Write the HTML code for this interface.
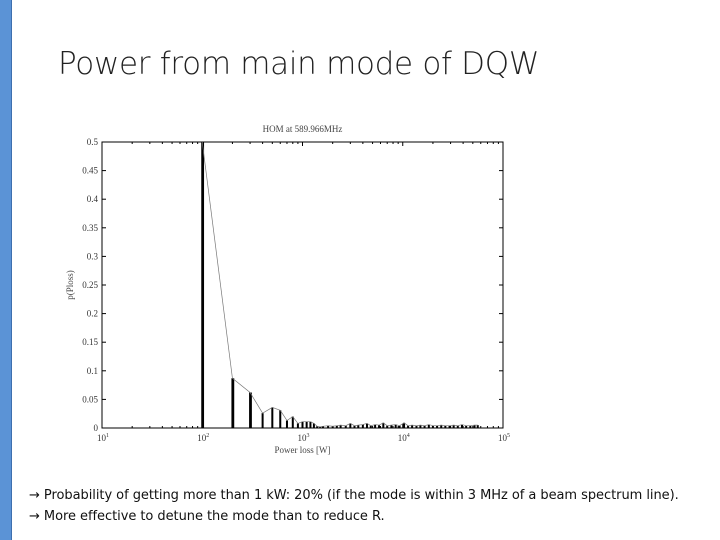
<!DOCTYPE html>
<html><head><meta charset="utf-8"><style>
body{margin:0;width:720px;height:540px;background:#fff;position:relative;overflow:hidden;font-family:"Liberation Sans",sans-serif}
#bar{position:absolute;left:0;top:0;width:11px;height:540px;background:#5b93d6;border-right:1px solid #3d6fae}
#title{position:absolute;left:58px;top:46px;font-size:31px;color:#222;font-family:"DejaVu Sans","Liberation Sans",sans-serif;font-weight:300;letter-spacing:-0.3px}
.txt{position:absolute;left:29px;font-size:13px;color:#111;font-family:"DejaVu Sans","Liberation Sans",sans-serif;letter-spacing:-0.05px}
svg{position:absolute;left:0;top:0}
</style></head><body>
<div id="bar"></div>
<div id="title">Power from main mode of DQW</div>
<div class="txt" style="top:488px">→ Probability of getting more than 1 kW: 20% (if the mode is within 3 MHz of a beam spectrum line).</div>
<div class="txt" style="top:509px">→ More effective to detune the mode than to reduce R.</div>
<svg id="chart" width="720" height="540"></svg>
<script>
const powers=[100,200,300,400,500,600,700,800,900,1000,1100,1200,1300,1400,1500,1600,1800,2000,2200,2400,2700,3000,3300,3600,4000,4400,4800,5300,5800,6400,7000,7700,8500,9300,10300,11300,12400,13700,15000,16500,18200,20000,22000,24200,26600,29300,32200,35400,39000,42900,47200,52000,56000];
const probs=[0.5,0.087,0.062,0.026,0.036,0.031,0.013,0.02,0.008,0.011,0.011,0.011,0.008,0.003,0.002,0.003,0.004,0.003,0.004,0.005,0.004,0.008,0.004,0.005,0.006,0.008,0.004,0.006,0.005,0.009,0.004,0.005,0.006,0.004,0.009,0.004,0.005,0.004,0.005,0.004,0.006,0.004,0.004,0.005,0.004,0.004,0.005,0.004,0.006,0.004,0.004,0.005,0.005];
const yTicks=[0,0.05,0.1,0.15,0.2,0.25,0.3,0.35,0.4,0.45,0.5];
const xDecades=[1,2,3,4,5];
const L=102,R=503,T=142,B=428;
const xs=v=>L+(Math.log10(v)-1)/4*(R-L);
const ys=v=>B-v/0.5*(B-T);
const svg=document.getElementById('chart');const NS='http://www.w3.org/2000/svg';
function mk(t,a,txt){const e=document.createElementNS(NS,t);for(const k in a)e.setAttribute(k,a[k]);if(txt!==undefined)e.textContent=txt;svg.appendChild(e);return e;}
const F='"Liberation Serif",serif';
let e=mk('rect',{x:L,y:T,width:R-L,height:B-T,fill:'none',stroke:'#000','stroke-width':1});

yTicks.forEach(v=>{const y=ys(v);
mk('line',{x1:L,x2:L+4,y1:y,y2:y,stroke:'#000'});mk('line',{x1:R,x2:R-4,y1:y,y2:y,stroke:'#000'});
const t=mk('text',{x:L-4,y:y+3,'text-anchor':'end','font-size':9,'font-family':F,fill:'#333'},String(v));
});
xDecades.forEach(d=>{const x=xs(Math.pow(10,d));
const t=mk('text',{x:x-5,y:B+13,'font-size':9,'font-family':F,fill:'#333'},'10');
const s=document.createElementNS(NS,'tspan');s.setAttribute('dy','-4');s.setAttribute('font-size','6');s.textContent=String(d);t.appendChild(s);

if(d<5)for(let m=2;m<=10;m++){const xm=xs(m*Math.pow(10,d));const h=m===10?4:2;
mk('line',{x1:xm,x2:xm,y1:B,y2:B-h,stroke:'#000'});mk('line',{x1:xm,x2:xm,y1:T,y2:T+h,stroke:'#000'});}});
let pts=[];
powers.forEach((p,i)=>{const x=xs(p),y=ys(probs[i]);pts.push(x+','+y);
const b=mk('rect',{x:x-1,y:y,width:i<3?2.8:2,height:B-y,fill:'#000'});
});
e=mk('polyline',{points:pts.join(' '),fill:'none',stroke:'#777','stroke-width':0.7});

e=mk('text',{x:(L+R)/2,y:T-10,'text-anchor':'middle','font-size':9,'font-family':F,fill:'#444'},'HOM at 589.966MHz');

e=mk('text',{x:(L+R)/2,y:B+25,'text-anchor':'middle','font-size':9,'font-family':F,fill:'#444'},'Power loss [W]');

e=mk('text',{x:73,y:(T+B)/2,'text-anchor':'middle','font-size':9,'font-family':F,fill:'#444',transform:'rotate(-90 73 '+(T+B)/2+')'},'p(Ploss)');

</script>
</body></html>
